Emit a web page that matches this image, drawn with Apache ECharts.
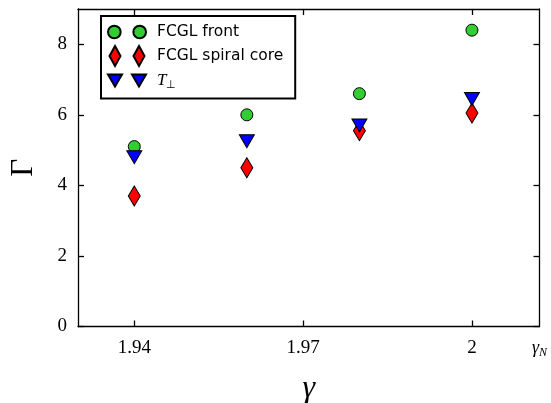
<!DOCTYPE html>
<html><head><meta charset="utf-8">
<script src="https://cdn.jsdelivr.net/npm/echarts@6/dist/echarts.min.js"></script>
<style>html,body{margin:0;padding:0;background:#fff}#c{width:551px;height:403px}</style>
</head><body><div id="c"></div>
<script>
var gammaValues = [1.94, 1.96, 1.98, 2.0];
var frontValues = [5.1, 6.0, 6.6, 8.4];
var spiralValues = [3.7, 4.5, 5.55, 6.05];
var tperpValues = [4.8, 5.25, 5.7, 6.45];
var xTickValues = [1.94, 1.97, 2.0];
var xLabelValues = [1.94, 1.97, 2.0, 2.012];
var yTickLabels = [0, 2, 4, 6, 8];
var seriesNames = ['FCGL front', 'FCGL spiral core', 'T⊥'];

function pairs(vals){ return gammaValues.map(function(g,i){ return [g, vals[i]]; }); }

var serif = 'Liberation Serif';
var chart = echarts.init(document.getElementById('c'), null, {renderer:'canvas'});
var axisCommon = {
  axisLine:{show:true, onZero:false, lineStyle:{color:'#000', width:1.3}},
  splitLine:{show:false}
};
chart.setOption({
  animation:false,
  backgroundColor:'#fff',
  grid:{left:78, right:11.5, top:9, bottom:76.5, containLabel:false, outerBoundsMode:'none'},
  xAxis:[
    Object.assign({}, axisCommon, {
      type:'value', min:1.93, max:2.012, position:'bottom',
      axisTick:{show:true, inside:true, length:6, customValues:xTickValues, lineStyle:{color:'#000',width:1.3}},
      axisLabel:{show:true, customValues:xLabelValues, margin:12,
        formatter:function(v){ if (v > 2.005) return '{g|γ}{n|N}'; return '{d|' + (Math.abs(v-2)<1e-9 ? '2' : v.toFixed(2)) + '}'; },
        rich:{d:{fontFamily:serif, fontSize:19, color:'#000'},
              g:{fontFamily:serif, fontStyle:'italic', fontSize:18, color:'#000'},
              n:{fontFamily:serif, fontStyle:'italic', fontSize:12, color:'#000', verticalAlign:'bottom', padding:[8,0,0,0]}}},
      name:'γ', nameLocation:'middle', nameGap:46,
      nameTextStyle:{fontFamily:serif, fontStyle:'italic', fontSize:32, color:'#000'}
    }),
    Object.assign({}, axisCommon, {
      type:'value', min:1.93, max:2.012, position:'top',
      axisTick:{show:true, inside:true, length:6, customValues:xTickValues, lineStyle:{color:'#000',width:1.3}},
      axisLabel:{show:false}
    })
  ],
  yAxis:[
    Object.assign({}, axisCommon, {
      type:'value', min:0, max:9, interval:2, position:'left',
      axisTick:{show:true, inside:true, length:6, customValues:yTickLabels, lineStyle:{color:'#000',width:1.3}},
      axisLabel:{show:true, customValues:yTickLabels, margin:11, fontFamily:serif, fontSize:19, color:'#000'},
      name:'Γ', nameLocation:'middle', nameGap:39, nameRotate:90,
      nameTextStyle:{fontFamily:serif, fontSize:31, color:'#000'}
    }),
    Object.assign({}, axisCommon, {
      type:'value', min:0, max:9, interval:2, position:'right',
      axisTick:{show:true, inside:true, length:6, customValues:yTickLabels, lineStyle:{color:'#000',width:1.3}},
      axisLabel:{show:false}
    })
  ],
  legend:{
    orient:'vertical', left:101, top:16,
    backgroundColor:'#fff', borderColor:'#000', borderWidth:2, borderRadius:0,
    padding:[8,12,8,6], itemGap:5, itemWidth:38, itemHeight:20,
    data:[
      {name:seriesNames[0], icon:'path://M0,6a6,6 0 1,0 12,0a6,6 0 1,0 -12,0M24,6a6,6 0 1,0 12,0a6,6 0 1,0 -12,0'},
      {name:seriesNames[1], icon:'path://M5.5,0L11,10L5.5,20L0,10ZM29.5,0L35,10L29.5,20L24,10Z'},
      {name:seriesNames[2], icon:'path://M0,0L14,0L7,12ZM24,0L38,0L31,12Z'}
    ],
    formatter:function(n){ if (n === 'T⊥') return '{i|T}{s|⊥}'; return '{t|' + n + '}'; },
    textStyle:{rich:{
      t:{fontFamily:'DejaVu Sans', fontSize:15.5, color:'#000', padding:[0,0,0,6], height:20},
      i:{fontFamily:serif, fontStyle:'italic', fontSize:17, color:'#000', padding:[0,0,0,6], height:20},
      s:{fontFamily:serif, fontSize:11, color:'#000', verticalAlign:'bottom', padding:[6,0,0,0]}
    }}
  },
  series:[
    {name:seriesNames[0], type:'scatter', symbol:'circle', symbolSize:12, symbolKeepAspect:true,
     itemStyle:{color:'#32cd32', borderColor:'#000', borderWidth:1, opacity:1}, data:pairs(frontValues), z:3},
    {name:seriesNames[1], type:'scatter', symbol:'diamond', symbolSize:[12,20], symbolKeepAspect:true,
     itemStyle:{color:'#ff0000', borderColor:'#000', borderWidth:1, opacity:1}, data:pairs(spiralValues), z:4},
    {name:seriesNames[2], type:'scatter', symbol:'triangle', symbolRotate:180, symbolSize:[15,13], symbolKeepAspect:true,
     itemStyle:{color:'#0000ff', borderColor:'#000', borderWidth:1, opacity:1}, data:pairs(tperpValues), z:5}
  ]
});
</script></body></html>
